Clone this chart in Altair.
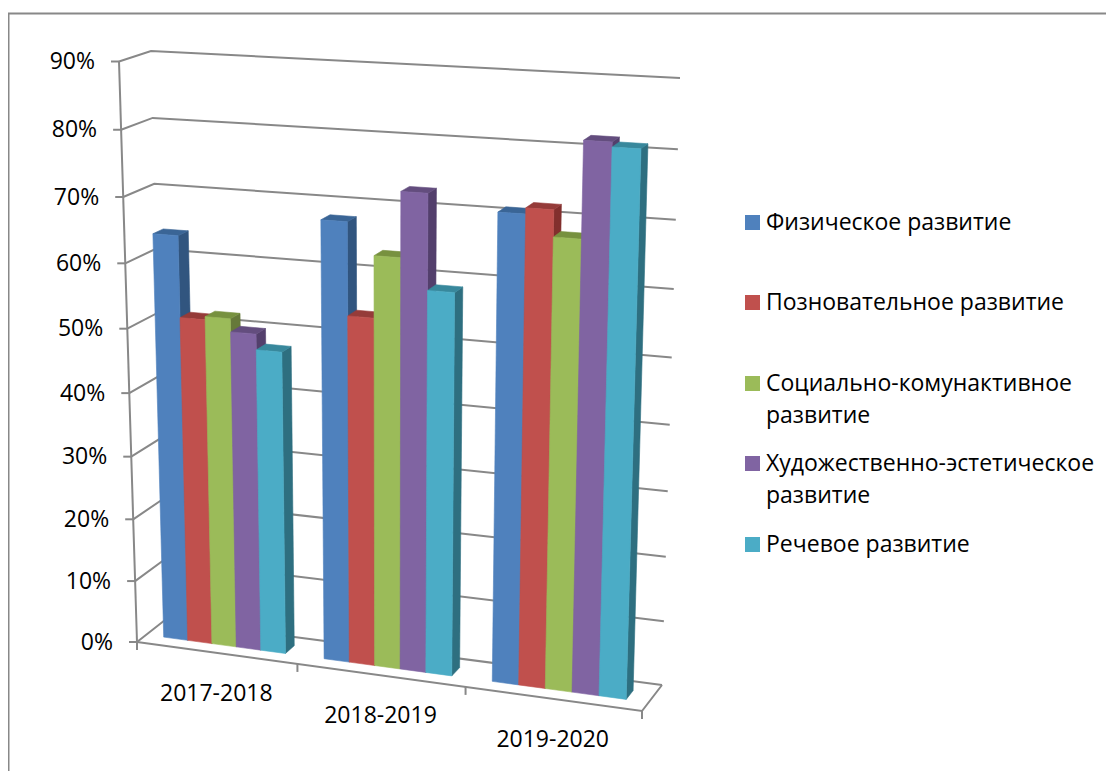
import altair as alt
import pandas as pd

# ---- chart values ----
periods = ["2017-2018", "2018-2019", "2019-2020"]
series = ["Физическое развитие", "Позновательное развитие", "Социально-комунактивное развитие",
          "Художественно-эстетическое развитие", "Речевое развитие"]
legend_lines = [["Физическое развитие"], ["Позновательное развитие"], ["Социально-комунактивное", "развитие"],
                ["Художественно-эстетическое", "развитие"], ["Речевое развитие"]]
values = [
    [64, 51.5, 52, 50, 47.6],
    [68, 54, 63.3, 73, 58.8],
    [71, 71.9, 68, 82, 81.3],
]
ticks = [0, 10, 20, 30, 40, 50, 60, 70, 80, 90]
front_colors = ["#4F81BD", "#C0504D", "#9BBB59", "#8064A2", "#4BACC6"]
side_colors = ["#31557F", "#822F2D", "#66793A", "#533F6C", "#2E6F80"]
top_colors = ["#3A6596", "#953B39", "#77913F", "#634D7E", "#38889C"]
legend_y = [222.5, 302.5, 383.5, 463.5, 544.5]

# ---- the 3-D view: corners of the chart box on the page ----
FL0, FR0, BL0, BR0 = (137, 642), (642, 711), (165, 620), (662, 685)
FL9, FR9, BL9, BR9 = (119, 61.5), (660, 92), (151, 51), (680, 78)
VMAX = 90
GAP = 1.55
D0, D1 = 0.33, 0.67
U_SHIFT = 0.0022


def warp(t, r):
    return t / (t + (1 - t) * r)


def project(u, d, val):
    """Perspective-like position of a point: u along the floor, d into the depth, val the height."""
    a, c = warp(u, 1.074), warp(val / VMAX, 1.066)
    out = []
    for k in (0, 1):
        lo = (FL0[k] * (1 - a) + FR0[k] * a) * (1 - d) + (BL0[k] * (1 - a) + BR0[k] * a) * d
        hi = (FL9[k] * (1 - a) + FR9[k] * a) * (1 - d) + (BL9[k] * (1 - a) + BR9[k] * a) * d
        out.append(lo * (1 - c) + hi * c)
    return out


def polygon(rows, pid, name, pts):
    for i, p in enumerate(pts + pts[:1]):
        rows.append({"id": pid, "series": name, "o": i, "x": p[0], "y": p[1]})


fronts, sides, tops = [], [], []
total = len(periods) * (len(series) + GAP)
for g, row in enumerate(values):
    for s, v in enumerate(row):
        ul = (g * (len(series) + GAP) + GAP / 2 + s) / total - U_SHIFT
        ur = ul + 1 / total
        pid = f"{g}-{s}"
        polygon(fronts, pid, series[s], [project(ul, D0, 0), project(ur, D0, 0), project(ur, D0, v), project(ul, D0, v)])
        polygon(sides, pid, series[s], [project(ur, D0, 0), project(ur, D1, 0), project(ur, D1, v), project(ur, D0, v)])
        polygon(tops, pid, series[s], [project(ul, D0, v), project(ur, D0, v), project(ur, D1, v), project(ul, D1, v)])

# frame, walls, floor, ticks
lines = []


def seg(pid, *pts):
    for i, p in enumerate(pts):
        lines.append({"id": pid, "o": i, "x": p[0], "y": p[1]})


seg("frame", (8.5, 771), (8.5, 13.5), (1106, 13.5))
for t in ticks:
    a = project(0, 0, t)
    seg(f"grid{t}", a, project(0, 1, t), project(1, 1, t))
    seg(f"tick{t}", (a[0] - 8, a[1]), a)
seg("axis", project(0, 0, 0), project(0, 0, VMAX))
seg("floor", project(0, 0, 0), project(1, 0, 0), project(1, 1, 0))
for g in range(len(periods) + 1):
    a = project(g / len(periods), 0, 0)
    seg(f"xt{g}", a, (a[0], a[1] + 8))

ylabels = [{"t": f"{t}%", "x": project(0, 0, t)[0] - 24, "y": project(0, 0, t)[1] + 0.5} for t in ticks]
xlabels = []
for g, name in enumerate(periods):
    a = project((g + 0.5) / len(periods), 0, 0)
    xlabels.append({"t": name, "x": a[0], "y": a[1] + 41})

legend_sq = [{"series": series[i], "x": 752.5, "y": legend_y[i]} for i in range(len(series))]
legend_txt = []
for i, ls in enumerate(legend_lines):
    for j, t in enumerate(ls):
        legend_txt.append({"t": t, "x": 766, "y": legend_y[i] + j * 32.5})

sx = alt.Scale(domain=[8, 1106], range=[0, 1098], nice=False, zero=False)
sy = alt.Scale(domain=[8, 771], range=[0, 763], nice=False, zero=False)
X = alt.X("x:Q", scale=sx, axis=None)
Y = alt.Y("y:Q", scale=sy, axis=None)


def faces(rows, colors):
    sc = alt.Scale(domain=series, range=colors)
    return alt.Chart(pd.DataFrame(rows)).mark_line(strokeWidth=0.6, clip=False).encode(
        x=X, y=Y, detail="id:N", order="o:Q",
        fill=alt.Fill("series:N", scale=sc, legend=None),
        stroke=alt.Stroke("series:N", scale=sc, legend=None),
    )


FONT = "Open Sans"
grid = alt.Chart(pd.DataFrame(lines)).mark_line(color="#888888", strokeWidth=2).encode(
    x=X, y=Y, detail="id:N", order="o:Q")
yt = alt.Chart(pd.DataFrame(ylabels)).mark_text(align="right", baseline="middle", font=FONT, fontSize=23, color="#000").encode(x=X, y=Y, text="t:N")
xt = alt.Chart(pd.DataFrame(xlabels)).mark_text(align="center", baseline="middle", font=FONT, fontSize=23, color="#000").encode(x=X, y=Y, text="t:N")
sq = alt.Chart(pd.DataFrame(legend_sq)).mark_square(size=225, opacity=1).encode(
    x=X, y=Y, fill=alt.Fill("series:N", scale=alt.Scale(domain=series, range=front_colors), legend=None))
lt = alt.Chart(pd.DataFrame(legend_txt)).mark_text(align="left", baseline="middle", font=FONT, fontSize=23, color="#000").encode(x=X, y=Y, text="t:N")

chart = alt.layer(grid, faces(sides, side_colors), faces(tops, top_colors), faces(fronts, front_colors), yt, xt, sq, lt).resolve_scale(
    fill="independent", stroke="independent"
).properties(
    width=1098, height=763, padding=0, autosize="none", background="white"
).configure_view(stroke=None)

chart.save("out.html", embed_options={"renderer": "svg", "actions": False})
